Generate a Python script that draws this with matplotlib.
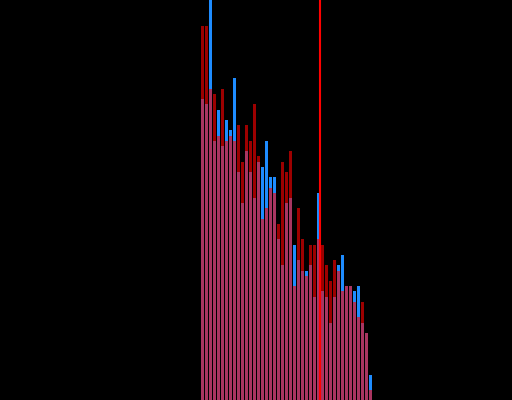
import matplotlib

matplotlib.use("Agg")

import matplotlib.pyplot as plt  # noqa: E402
import numpy as np  # noqa: E402

# Counts per bin for the two overlapping histograms.
blue_counts = [301, 296, 400, 259, 290, 254, 280, 270, 322, 228, 197, 249, 228, 202, 238,
               233, 259, 223, 223, 161, 135, 197, 202, 155, 140, 129, 129, 135, 103, 207,
               109, 103, 77, 103, 135, 145, 114, 114, 109, 114, 77, 67, 25]
red_counts = [374, 374, 311, 306, 264, 311, 259, 264, 259, 275, 238, 275, 259, 296, 244,
              181, 192, 212, 207, 176, 238, 228, 249, 114, 192, 161, 124, 155, 155, 161,
              155, 135, 119, 140, 129, 109, 114, 114, 98, 83, 98, 67, 10]
bin_left = np.arange(len(blue_counts))
marker_x = 29.8

fig = plt.figure(figsize=(5.12, 4.0), dpi=100, facecolor="black")
ax = fig.add_axes([0, 0, 1, 1])
ax.set_facecolor("black")

ax.bar(bin_left, blue_counts, width=0.75, align="edge", color="#1e8cff", linewidth=0)
ax.bar(bin_left, red_counts, width=0.75, align="edge", color="red", alpha=0.62, linewidth=0)
ax.axvline(marker_x, color="red", linewidth=1.5, zorder=5)

ax.set_xlim(-50.25, 77.75)
ax.set_ylim(0, max(blue_counts))
ax.axis("off")

fig.savefig("out.png", dpi=100, facecolor="black")
